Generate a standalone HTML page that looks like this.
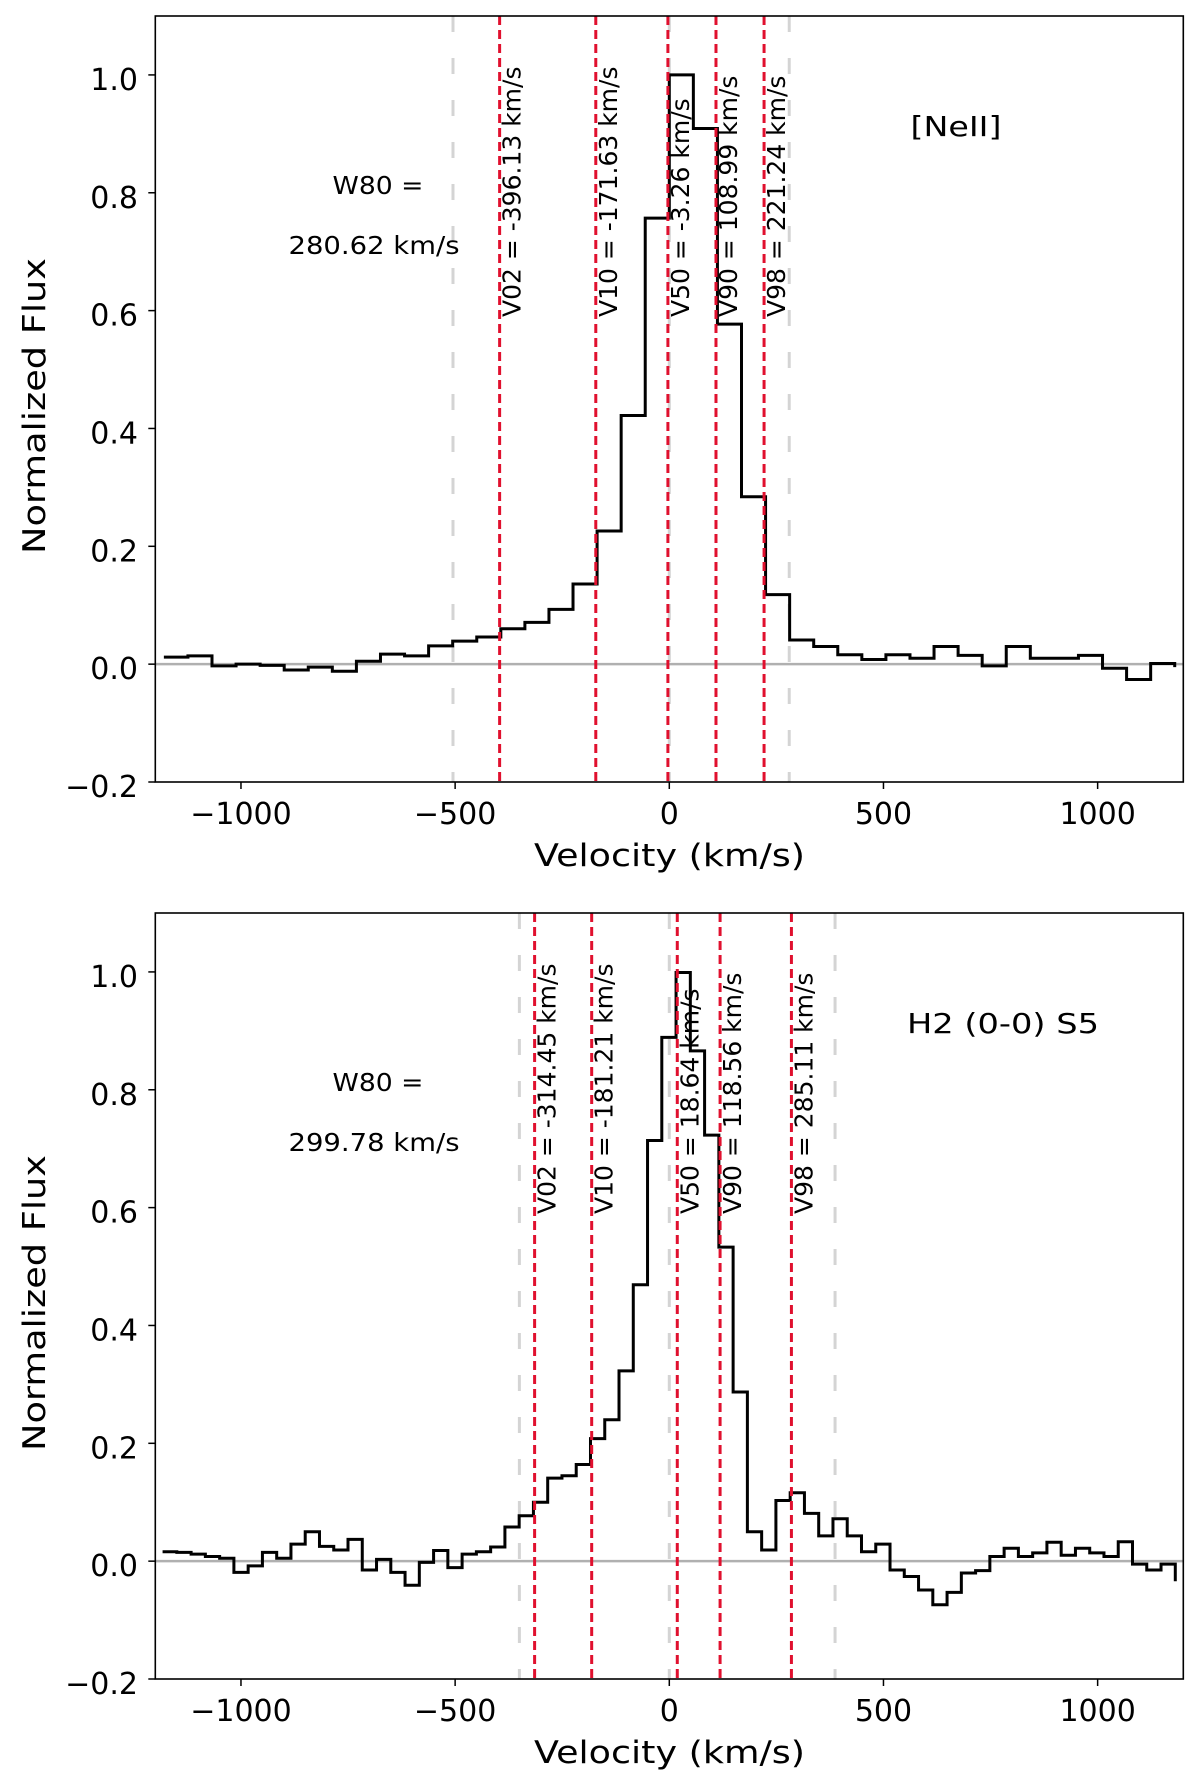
<!DOCTYPE html>
<html><head><meta charset="utf-8"><style>
html,body{margin:0;padding:0;background:#fff;}
svg{display:block;font-family:"DejaVu Sans","Liberation Sans",sans-serif;}
</style></head>
<body>
<svg id="fig" width="1200" height="1788" viewBox="0 0 1200 1788" xmlns="http://www.w3.org/2000/svg"></svg>
<script>
// ---------- data ----------
const xTicks = [-1000, -500, 0, 500, 1000];
const xTickLabels = ["\u22121000", "\u2212500", "0", "500", "1000"];
const yTicks = [-0.2, 0, 0.2, 0.4, 0.6, 0.8, 1.0];
const yTickLabels = ["\u22120.2", "0.0", "0.2", "0.4", "0.6", "0.8", "1.0"];

const topStart = -1180, topStep = 56.19;
const topValues = [0.012,0.014,-0.003,0.0,-0.002,-0.01,-0.005,-0.012,0.005,0.017,0.014,0.031,0.039,0.046,0.06,0.071,0.093,0.136,0.226,0.422,0.757,1.0,0.909,0.577,0.284,0.118,0.041,0.03,0.016,0.008,0.016,0.01,0.03,0.015,-0.003,0.03,0.01,0.01,0.015,-0.007,-0.026,0.001,-0.005];
const topMarkerNames = ["V02","V10","V50","V90","V98"];
const topMarkerValues = [-396.13,-171.63,-3.26,108.99,221.24];
const topGrayLines = [-505, 0, 280];
const topTitle = "[NeII]";
const topW80 = "280.62 km/s";

const botStart = -1183, botStep = 33.3;
const botValues = [0.016,0.015,0.012,0.008,0.005,-0.019,-0.008,0.015,0.005,0.029,0.05,0.025,0.019,0.037,-0.015,0.003,-0.019,-0.041,-0.002,0.018,-0.011,0.012,0.016,0.024,0.058,0.077,0.1,
0.141,0.145,0.164,0.208,0.24,0.323,0.469,0.714,0.889,0.999,0.866,0.723,0.533,0.287,0.05,0.019,0.103,
0.116,0.081,0.043,0.072,0.043,0.016,0.029,-0.015,-0.026,-0.049,-0.074,-0.053,-0.02,-0.016,0.008,0.022,0.008,0.014,0.032,0.01,0.022,0.014,0.008,0.033,-0.005,-0.015,-0.005,-0.034];
const botMarkerNames = ["V02","V10","V50","V90","V98"];
const botMarkerValues = [-314.45,-181.21,18.64,118.56,285.11];
const botGrayLines = [-350, 0, 387];
const botTitle = "H2 (0-0) S5";
const botW80 = "299.78 km/s";

// ---------- drawing ----------
const NS = "http://www.w3.org/2000/svg";
const svg = document.getElementById("fig");
function mk(tag, attrs, parent) {
  const e = document.createElementNS(NS, tag);
  for (const k in attrs) e.setAttribute(k, attrs[k]);
  (parent || svg).appendChild(e);
  return e;
}
const L = 155.3, R = 1183.3, XMIN = -1200, XMAX = 1200, YMIN = -0.2, YMAX = 1.1;

function drawPanel(top, bottom, start, step, values, mNames, mVals, grays, title, w80, prefix) {
  const g = mk("g", {});
  
  
  const sx = v => L + (v - XMIN) / (XMAX - XMIN) * (R - L);
  const sy = v => bottom - (v - YMIN) / (YMAX - YMIN) * (bottom - top);
  const clip = mk("clipPath", {id: prefix + "-clip"}, g);
  mk("rect", {x: L, y: top, width: R - L, height: bottom - top}, clip);
  const inner = mk("g", {"clip-path": "url(#" + prefix + "-clip)"}, g);

  grays.forEach(v => {
    const ln = mk("line", {x1: sx(v), x2: sx(v), y1: top, y2: bottom, stroke: "#d4d4d4", "stroke-width": 3, "stroke-dasharray": "16 26"}, inner);
    
    
  });
  const zl = mk("line", {x1: L, x2: R, y1: sy(0), y2: sy(0), stroke: "#b0b0b0", "stroke-width": 2.5}, inner);
  
  

  let d = "M" + sx(start).toFixed(2) + "," + sy(values[0]).toFixed(2);
  for (let i = 1; i < values.length; i++) {
    d += " H" + sx(start + i * step).toFixed(2) + " V" + sy(values[i]).toFixed(2);
  }
  const p = mk("path", {d: d, fill: "none", stroke: "#000", "stroke-width": 3, "stroke-linejoin": "miter"}, inner);
  
  

  mVals.forEach((v, i) => {
    const ln = mk("line", {x1: sx(v), x2: sx(v), y1: top, y2: bottom, stroke: "#e0102e", "stroke-width": 3, "stroke-dasharray": "9 5"}, inner);
    
    
  });
  mVals.forEach((v, i) => {
    const tx = sx(v) + 21, ty = top + 301;
    const t = mk("text", {x: 0, y: 0, "font-size": 25, fill: "#000", transform: "translate(" + tx + "," + ty + ") rotate(-90)"}, g);
    t.textContent = mNames[i] + " = " + v.toFixed(2) + " km/s";
    
    
  });

  // frame
  const fr = mk("rect", {x: L, y: top, width: R - L, height: bottom - top, fill: "none", stroke: "#000", "stroke-width": 1.6}, g);
  
  

  xTicks.forEach((v, i) => {
    mk("line", {x1: sx(v), x2: sx(v), y1: bottom, y2: bottom + 7, stroke: "#000", "stroke-width": 1.5}, g);
    const t = mk("text", {x: sx(v), y: bottom + 42, "font-size": 30, "text-anchor": "middle", fill: "#000"}, g);
    t.textContent = xTickLabels[i];
    
    
  });
  yTicks.forEach((v, i) => {
    mk("line", {x1: L - 7, x2: L, y1: sy(v), y2: sy(v), stroke: "#000", "stroke-width": 1.5}, g);
    const t = mk("text", {x: 138, y: sy(v) + 15, "font-size": 30, "text-anchor": "end", fill: "#000"}, g);
    t.textContent = yTickLabels[i];
    
    
  });

  const xl = mk("text", {x: 669.5, y: bottom + 84, "font-size": 31, "text-anchor": "middle", textLength: 271, lengthAdjust: "spacingAndGlyphs", fill: "#000"}, g);
  xl.textContent = "Velocity (km/s)";
  
  
  const cy = (top + bottom) / 2 + 7;
  const yl = mk("text", {x: 0, y: 0, "font-size": 31, "text-anchor": "middle", textLength: 296, lengthAdjust: "spacingAndGlyphs", fill: "#000", transform: "translate(45," + cy + ") rotate(-90)"}, g);
  yl.textContent = "Normalized Flux";
  
  

  const tt = mk("text", {x: title.length > 8 ? 1003 : 956, y: top + 120, "font-size": 28, "text-anchor": "middle", textLength: title.length > 8 ? 192 : 91, lengthAdjust: "spacingAndGlyphs", fill: "#000"}, g);
  tt.textContent = title;
  
  
  const w1 = mk("text", {x: 378, y: top + 178, "font-size": 25, "text-anchor": "middle", textLength: 91, lengthAdjust: "spacingAndGlyphs", fill: "#000"}, g);
  w1.textContent = "W80 =";
  
  
  const w2 = mk("text", {x: 374, y: top + 238, "font-size": 25, "text-anchor": "middle", textLength: 171, lengthAdjust: "spacingAndGlyphs", fill: "#000"}, g);
  w2.textContent = w80;
  
  
}

drawPanel(16, 782, topStart, topStep, topValues, topMarkerNames, topMarkerValues, topGrayLines, topTitle, topW80, "top");
drawPanel(913, 1679, botStart, botStep, botValues, botMarkerNames, botMarkerValues, botGrayLines, botTitle, botW80, "bottom");
</script>
</body></html>
